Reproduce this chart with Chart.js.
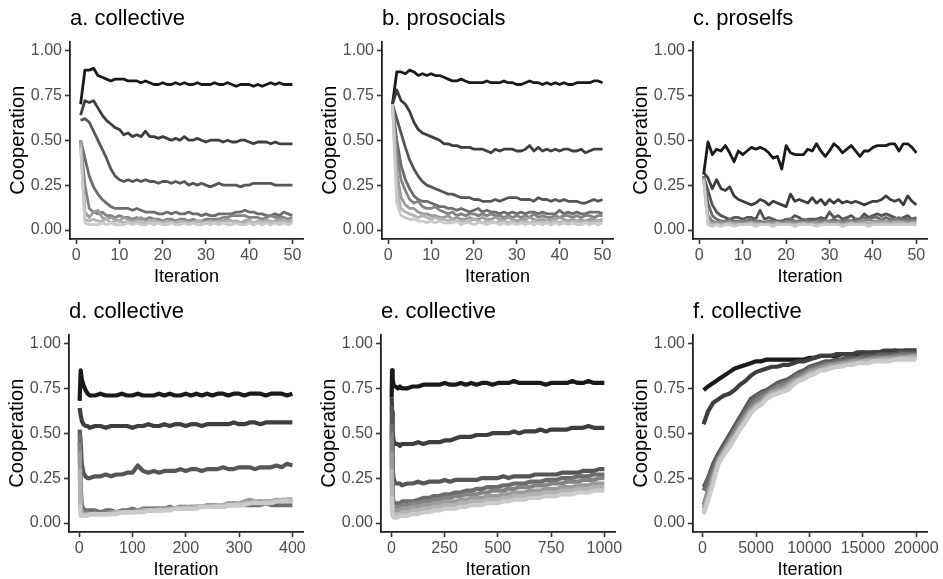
<!DOCTYPE html>
<html><head><meta charset="utf-8">
<script src="https://cdn.jsdelivr.net/npm/chart.js@4/dist/chart.umd.min.js"></script>
<style>
html,body{margin:0;padding:0;background:#fff;}
body{width:943px;height:579px;overflow:hidden;position:relative;}
canvas{position:absolute;}
</style></head><body>
<canvas id="pa"></canvas><canvas id="pb"></canvas><canvas id="pc"></canvas>
<canvas id="pd"></canvas><canvas id="pe"></canvas><canvas id="pf"></canvas>
<script>
// ---------- DATA ----------
const panelTitles = ['a. collective','b. prosocials','c. proselfs','d. collective','e. collective','f. collective'];
const yTicks = [0, 0.25, 0.5, 0.75, 1];
const xTicks50 = [0,10,20,30,40,50];
const xTicks400 = [0,100,200,300,400];
const xTicks1000 = [0,250,500,750,1000];
const xTicks20000 = [0,5000,10000,15000,20000];

const iter50 = [1,2,3,4,5,6,7,8,9,10,11,12,13,14,15,16,17,18,19,20,21,22,23,24,25,26,27,28,29,30,31,32,33,34,35,36,37,38,39,40,41,42,43,44,45,46,47,48,49,50];
const iter400 = [1,3,5,8,12,16,20,30,40,50,60,70,80,90,100,110,120,130,140,150,160,170,180,190,200,210,220,230,240,250,260,270,280,290,300,310,320,330,340,350,360,370,380,390,400];
const iter1000 = [1,3,6,10,15,20,30,40,50,75,100,125,150,175,200,225,250,275,300,325,350,375,400,425,450,475,500,525,550,575,600,625,650,675,700,725,750,775,800,825,850,875,900,925,950,975,1000];
const iter20000 = [100,500,1000,1500,2000,2500,3000,3500,4000,4500,5000,5500,6000,6500,7000,7500,8000,8500,9000,9500,10000,10500,11000,11500,12000,12500,13000,13500,14000,14500,15000,15500,16000,16500,17000,17500,18000,18500,19000,19500,20000];

// a. collective
const a1 = [0.70,0.89,0.89,0.90,0.86,0.85,0.84,0.83,0.84,0.84,0.84,0.83,0.83,0.83,0.82,0.83,0.82,0.81,0.81,0.82,0.81,0.81,0.82,0.81,0.82,0.81,0.81,0.82,0.81,0.81,0.81,0.82,0.81,0.81,0.82,0.81,0.80,0.81,0.81,0.81,0.80,0.81,0.80,0.81,0.82,0.81,0.82,0.81,0.81,0.81];
const a2 = [0.64,0.72,0.71,0.72,0.68,0.64,0.61,0.59,0.57,0.56,0.53,0.54,0.52,0.53,0.52,0.55,0.52,0.52,0.51,0.52,0.51,0.50,0.51,0.50,0.52,0.50,0.50,0.51,0.50,0.49,0.50,0.50,0.50,0.49,0.50,0.49,0.49,0.50,0.50,0.49,0.48,0.49,0.49,0.49,0.48,0.49,0.48,0.48,0.48,0.48];
const a3 = [0.61,0.62,0.60,0.55,0.50,0.45,0.40,0.34,0.30,0.28,0.27,0.28,0.27,0.28,0.27,0.28,0.27,0.27,0.26,0.27,0.27,0.26,0.27,0.26,0.27,0.25,0.26,0.25,0.26,0.25,0.24,0.25,0.26,0.25,0.25,0.25,0.25,0.24,0.25,0.25,0.26,0.26,0.26,0.26,0.26,0.25,0.25,0.25,0.25,0.25];
const a4 = [0.50,0.40,0.30,0.24,0.20,0.17,0.15,0.13,0.12,0.12,0.12,0.12,0.11,0.12,0.11,0.10,0.10,0.10,0.09,0.09,0.10,0.09,0.10,0.09,0.09,0.10,0.09,0.09,0.08,0.09,0.08,0.08,0.09,0.09,0.09,0.09,0.10,0.10,0.11,0.10,0.10,0.09,0.09,0.08,0.08,0.09,0.08,0.10,0.09,0.08];
const a5 = [0.50,0.25,0.12,0.10,0.09,0.10,0.08,0.08,0.07,0.08,0.07,0.07,0.06,0.07,0.06,0.06,0.07,0.06,0.06,0.05,0.06,0.06,0.05,0.06,0.06,0.05,0.06,0.05,0.05,0.06,0.06,0.06,0.06,0.07,0.07,0.08,0.08,0.08,0.08,0.07,0.07,0.07,0.06,0.07,0.08,0.07,0.07,0.07,0.06,0.07];
const a6 = [0.50,0.10,0.07,0.10,0.11,0.07,0.06,0.07,0.06,0.05,0.07,0.06,0.05,0.06,0.07,0.05,0.05,0.06,0.05,0.04,0.05,0.05,0.04,0.05,0.05,0.04,0.05,0.05,0.05,0.04,0.04,0.05,0.05,0.05,0.06,0.05,0.05,0.04,0.05,0.06,0.03,0.05,0.04,0.06,0.04,0.05,0.06,0.05,0.04,0.05];
const a7 = [0.48,0.06,0.05,0.06,0.05,0.05,0.06,0.04,0.05,0.05,0.04,0.05,0.04,0.05,0.04,0.04,0.05,0.05,0.04,0.04,0.05,0.04,0.04,0.05,0.04,0.04,0.04,0.05,0.04,0.04,0.05,0.04,0.05,0.04,0.05,0.05,0.04,0.04,0.04,0.05,0.04,0.05,0.04,0.05,0.05,0.04,0.05,0.04,0.05,0.05];
const a8 = [0.46,0.04,0.03,0.03,0.03,0.04,0.03,0.04,0.03,0.03,0.03,0.04,0.03,0.04,0.03,0.03,0.04,0.03,0.04,0.03,0.03,0.04,0.03,0.03,0.04,0.03,0.04,0.03,0.03,0.04,0.03,0.04,0.03,0.04,0.03,0.03,0.04,0.03,0.03,0.04,0.03,0.04,0.03,0.04,0.03,0.04,0.03,0.04,0.03,0.04];

// b. prosocials
const b1 = [0.70,0.88,0.88,0.87,0.89,0.88,0.86,0.87,0.86,0.87,0.86,0.86,0.85,0.84,0.83,0.83,0.84,0.83,0.82,0.82,0.82,0.82,0.83,0.82,0.82,0.82,0.83,0.82,0.82,0.81,0.81,0.82,0.83,0.82,0.82,0.81,0.82,0.81,0.82,0.81,0.82,0.81,0.81,0.82,0.82,0.82,0.82,0.83,0.83,0.82];
const b2 = [0.70,0.78,0.72,0.70,0.66,0.60,0.56,0.54,0.53,0.52,0.51,0.50,0.48,0.48,0.47,0.47,0.46,0.46,0.46,0.45,0.45,0.45,0.44,0.43,0.45,0.44,0.45,0.45,0.45,0.44,0.44,0.45,0.47,0.44,0.46,0.44,0.45,0.44,0.45,0.44,0.45,0.45,0.44,0.44,0.45,0.43,0.44,0.45,0.45,0.45];
const b3 = [0.70,0.62,0.54,0.46,0.39,0.34,0.30,0.27,0.25,0.24,0.23,0.22,0.21,0.20,0.20,0.19,0.18,0.18,0.18,0.17,0.17,0.16,0.16,0.16,0.17,0.16,0.17,0.18,0.18,0.18,0.17,0.17,0.17,0.16,0.18,0.17,0.17,0.16,0.17,0.16,0.17,0.16,0.16,0.16,0.15,0.15,0.16,0.17,0.16,0.17];
const b4 = [0.70,0.50,0.36,0.28,0.23,0.19,0.17,0.16,0.16,0.15,0.14,0.13,0.13,0.12,0.12,0.11,0.12,0.11,0.10,0.11,0.12,0.10,0.11,0.10,0.10,0.09,0.10,0.09,0.10,0.09,0.10,0.09,0.10,0.10,0.09,0.10,0.09,0.09,0.09,0.11,0.09,0.10,0.09,0.10,0.09,0.09,0.10,0.10,0.10,0.09];
const b5 = [0.70,0.42,0.28,0.22,0.17,0.15,0.16,0.13,0.12,0.12,0.13,0.11,0.10,0.09,0.10,0.08,0.09,0.08,0.09,0.09,0.08,0.09,0.08,0.09,0.08,0.08,0.07,0.08,0.07,0.08,0.07,0.08,0.07,0.09,0.07,0.08,0.07,0.07,0.08,0.07,0.08,0.08,0.07,0.08,0.07,0.08,0.08,0.07,0.08,0.08];
const b6 = [0.70,0.32,0.18,0.14,0.12,0.12,0.10,0.09,0.09,0.08,0.08,0.07,0.07,0.08,0.06,0.07,0.06,0.06,0.07,0.06,0.06,0.07,0.06,0.06,0.07,0.06,0.06,0.07,0.06,0.05,0.06,0.06,0.07,0.06,0.05,0.06,0.05,0.06,0.06,0.07,0.06,0.05,0.06,0.05,0.06,0.05,0.06,0.06,0.05,0.06];
const b7 = [0.70,0.22,0.12,0.10,0.09,0.08,0.07,0.08,0.07,0.06,0.07,0.06,0.06,0.05,0.06,0.05,0.05,0.04,0.05,0.06,0.05,0.04,0.05,0.05,0.04,0.05,0.05,0.04,0.05,0.04,0.04,0.05,0.04,0.05,0.04,0.04,0.05,0.04,0.05,0.04,0.05,0.04,0.04,0.05,0.04,0.05,0.04,0.05,0.05,0.05];
const b8 = [0.70,0.15,0.08,0.07,0.06,0.06,0.05,0.05,0.04,0.05,0.04,0.05,0.04,0.04,0.04,0.05,0.03,0.04,0.04,0.03,0.04,0.04,0.03,0.04,0.04,0.03,0.04,0.03,0.04,0.03,0.04,0.03,0.04,0.03,0.04,0.03,0.04,0.03,0.04,0.03,0.04,0.03,0.04,0.03,0.03,0.04,0.03,0.04,0.03,0.04];

// c. proselfs
const c1 = [0.31,0.49,0.42,0.45,0.44,0.47,0.43,0.38,0.44,0.42,0.44,0.46,0.45,0.46,0.45,0.43,0.40,0.41,0.34,0.47,0.43,0.42,0.42,0.42,0.45,0.44,0.48,0.44,0.41,0.44,0.48,0.46,0.43,0.45,0.47,0.44,0.41,0.44,0.44,0.46,0.47,0.47,0.47,0.48,0.48,0.44,0.48,0.48,0.46,0.43];
const c2 = [0.32,0.29,0.23,0.28,0.23,0.22,0.24,0.19,0.17,0.16,0.15,0.14,0.15,0.17,0.16,0.14,0.16,0.15,0.14,0.13,0.20,0.16,0.17,0.16,0.15,0.18,0.15,0.17,0.14,0.17,0.15,0.17,0.15,0.16,0.15,0.16,0.15,0.14,0.15,0.16,0.16,0.17,0.19,0.17,0.16,0.17,0.14,0.19,0.16,0.14];
const c3 = [0.30,0.22,0.14,0.10,0.08,0.07,0.06,0.07,0.07,0.06,0.07,0.07,0.06,0.11,0.06,0.07,0.06,0.05,0.05,0.06,0.06,0.08,0.07,0.05,0.06,0.06,0.06,0.07,0.06,0.10,0.07,0.08,0.06,0.07,0.08,0.06,0.06,0.09,0.07,0.08,0.09,0.08,0.09,0.08,0.07,0.06,0.07,0.08,0.06,0.07];
const c4 = [0.30,0.15,0.08,0.06,0.05,0.05,0.06,0.05,0.05,0.05,0.05,0.06,0.05,0.05,0.04,0.05,0.05,0.04,0.05,0.05,0.06,0.05,0.05,0.06,0.05,0.05,0.05,0.06,0.05,0.05,0.06,0.05,0.05,0.06,0.05,0.06,0.06,0.07,0.06,0.07,0.07,0.06,0.07,0.06,0.06,0.07,0.06,0.06,0.06,0.06];
const c5 = [0.29,0.08,0.05,0.04,0.05,0.04,0.05,0.04,0.04,0.05,0.04,0.04,0.05,0.04,0.04,0.04,0.05,0.04,0.04,0.05,0.04,0.05,0.04,0.04,0.05,0.04,0.05,0.04,0.05,0.05,0.04,0.05,0.04,0.05,0.05,0.04,0.05,0.05,0.06,0.05,0.05,0.06,0.05,0.05,0.06,0.05,0.05,0.05,0.05,0.05];
const c6 = [0.29,0.05,0.03,0.04,0.03,0.04,0.03,0.04,0.04,0.03,0.04,0.03,0.04,0.04,0.03,0.04,0.03,0.04,0.03,0.04,0.04,0.03,0.04,0.04,0.03,0.04,0.04,0.03,0.04,0.04,0.04,0.04,0.03,0.04,0.04,0.04,0.05,0.04,0.04,0.04,0.05,0.04,0.05,0.04,0.04,0.05,0.04,0.04,0.04,0.04];
const c7 = [0.28,0.04,0.03,0.03,0.03,0.03,0.04,0.03,0.03,0.03,0.03,0.04,0.03,0.03,0.03,0.03,0.03,0.04,0.03,0.03,0.03,0.03,0.03,0.04,0.03,0.03,0.03,0.03,0.04,0.03,0.03,0.03,0.03,0.03,0.04,0.03,0.03,0.04,0.03,0.04,0.03,0.04,0.04,0.03,0.04,0.04,0.04,0.03,0.04,0.04];
const c8 = [0.28,0.03,0.02,0.03,0.02,0.03,0.03,0.02,0.03,0.03,0.03,0.03,0.02,0.03,0.03,0.03,0.02,0.03,0.03,0.03,0.03,0.02,0.03,0.03,0.03,0.03,0.02,0.03,0.03,0.03,0.03,0.03,0.02,0.03,0.03,0.03,0.03,0.03,0.02,0.03,0.03,0.03,0.03,0.03,0.03,0.03,0.03,0.03,0.03,0.03];

// d. collective (400 iterations)
const d1 = [0.68,0.85,0.80,0.77,0.74,0.72,0.71,0.71,0.72,0.71,0.71,0.71,0.72,0.71,0.71,0.72,0.71,0.71,0.71,0.72,0.71,0.72,0.71,0.71,0.72,0.71,0.72,0.71,0.72,0.71,0.72,0.72,0.71,0.72,0.72,0.71,0.72,0.72,0.72,0.71,0.72,0.72,0.72,0.71,0.72];
const d2 = [0.64,0.60,0.57,0.55,0.54,0.54,0.53,0.54,0.54,0.53,0.54,0.54,0.54,0.54,0.53,0.54,0.54,0.55,0.54,0.54,0.55,0.54,0.55,0.55,0.54,0.55,0.55,0.54,0.55,0.55,0.55,0.55,0.55,0.56,0.55,0.55,0.56,0.56,0.55,0.56,0.56,0.56,0.56,0.56,0.56];
const d3 = [0.52,0.45,0.33,0.28,0.26,0.25,0.25,0.26,0.26,0.27,0.26,0.27,0.27,0.28,0.28,0.32,0.29,0.28,0.29,0.28,0.29,0.29,0.29,0.30,0.29,0.30,0.30,0.29,0.30,0.30,0.30,0.31,0.30,0.30,0.31,0.31,0.31,0.30,0.31,0.31,0.31,0.32,0.31,0.33,0.32];
const d4 = [0.50,0.20,0.10,0.08,0.07,0.07,0.07,0.07,0.06,0.07,0.07,0.06,0.07,0.07,0.08,0.07,0.08,0.08,0.08,0.08,0.08,0.09,0.08,0.09,0.08,0.09,0.09,0.09,0.09,0.09,0.10,0.09,0.10,0.10,0.10,0.10,0.10,0.10,0.10,0.11,0.10,0.10,0.10,0.10,0.10];
const d5 = [0.45,0.12,0.07,0.06,0.06,0.06,0.05,0.06,0.05,0.06,0.06,0.06,0.06,0.07,0.07,0.07,0.08,0.07,0.08,0.08,0.08,0.08,0.08,0.09,0.09,0.08,0.09,0.09,0.09,0.10,0.09,0.10,0.10,0.11,0.10,0.11,0.12,0.11,0.11,0.12,0.11,0.12,0.12,0.12,0.12];
const d6 = [0.40,0.08,0.06,0.05,0.05,0.05,0.05,0.05,0.05,0.05,0.06,0.06,0.06,0.06,0.06,0.07,0.07,0.07,0.07,0.08,0.08,0.08,0.08,0.08,0.09,0.09,0.09,0.09,0.10,0.10,0.10,0.10,0.11,0.11,0.11,0.12,0.13,0.12,0.12,0.12,0.12,0.13,0.12,0.13,0.13];
const d7 = [0.30,0.06,0.05,0.05,0.04,0.05,0.05,0.05,0.05,0.05,0.05,0.06,0.06,0.06,0.06,0.06,0.07,0.07,0.07,0.07,0.07,0.08,0.08,0.08,0.08,0.08,0.09,0.09,0.09,0.09,0.10,0.10,0.10,0.10,0.11,0.11,0.11,0.12,0.11,0.12,0.12,0.12,0.13,0.13,0.13];
const d8 = [0.10,0.04,0.04,0.04,0.04,0.04,0.05,0.05,0.05,0.05,0.05,0.05,0.06,0.06,0.06,0.06,0.06,0.07,0.07,0.07,0.07,0.07,0.08,0.08,0.08,0.08,0.08,0.09,0.09,0.09,0.09,0.09,0.10,0.10,0.10,0.10,0.11,0.11,0.11,0.11,0.11,0.12,0.12,0.12,0.12];

// e. collective (1000 iterations)
const e1 = [0.70,0.85,0.80,0.77,0.76,0.76,0.75,0.76,0.75,0.75,0.76,0.76,0.77,0.77,0.77,0.77,0.78,0.77,0.77,0.78,0.77,0.78,0.77,0.78,0.78,0.77,0.78,0.78,0.78,0.79,0.78,0.78,0.78,0.78,0.78,0.77,0.78,0.78,0.78,0.78,0.79,0.78,0.78,0.79,0.78,0.78,0.78];
const e2 = [0.70,0.62,0.50,0.46,0.44,0.44,0.44,0.43,0.44,0.44,0.44,0.45,0.44,0.45,0.45,0.45,0.46,0.46,0.47,0.48,0.48,0.48,0.49,0.49,0.49,0.50,0.50,0.50,0.50,0.51,0.50,0.51,0.51,0.51,0.52,0.51,0.52,0.52,0.52,0.52,0.53,0.53,0.53,0.54,0.53,0.53,0.53];
const e3 = [0.65,0.45,0.30,0.25,0.23,0.22,0.22,0.22,0.21,0.22,0.22,0.23,0.22,0.23,0.23,0.23,0.24,0.23,0.24,0.24,0.24,0.24,0.24,0.25,0.25,0.25,0.25,0.26,0.25,0.26,0.26,0.26,0.26,0.27,0.27,0.27,0.27,0.27,0.28,0.28,0.28,0.28,0.29,0.29,0.29,0.30,0.30];
const e4 = [0.55,0.30,0.15,0.12,0.11,0.11,0.11,0.11,0.12,0.12,0.12,0.13,0.14,0.14,0.15,0.15,0.16,0.16,0.17,0.17,0.18,0.18,0.19,0.19,0.20,0.20,0.20,0.21,0.21,0.22,0.22,0.22,0.23,0.23,0.23,0.24,0.24,0.24,0.25,0.25,0.25,0.26,0.26,0.26,0.27,0.27,0.27];
const e5 = [0.50,0.22,0.12,0.09,0.09,0.09,0.09,0.09,0.10,0.10,0.11,0.11,0.12,0.12,0.13,0.13,0.14,0.14,0.15,0.15,0.16,0.16,0.16,0.17,0.17,0.18,0.18,0.18,0.19,0.19,0.20,0.20,0.20,0.21,0.21,0.21,0.22,0.22,0.22,0.23,0.23,0.23,0.24,0.24,0.24,0.25,0.25];
const e6 = [0.40,0.15,0.09,0.07,0.07,0.07,0.07,0.07,0.08,0.08,0.09,0.09,0.10,0.10,0.11,0.11,0.12,0.12,0.12,0.13,0.13,0.14,0.14,0.14,0.15,0.15,0.15,0.16,0.16,0.17,0.17,0.17,0.18,0.18,0.18,0.19,0.19,0.19,0.20,0.20,0.20,0.21,0.21,0.21,0.22,0.22,0.22];
const e7 = [0.30,0.10,0.06,0.05,0.05,0.05,0.05,0.05,0.06,0.06,0.07,0.07,0.08,0.08,0.09,0.09,0.10,0.10,0.10,0.11,0.11,0.12,0.12,0.12,0.13,0.13,0.13,0.14,0.14,0.15,0.15,0.15,0.16,0.16,0.16,0.17,0.17,0.17,0.18,0.18,0.18,0.19,0.19,0.19,0.20,0.20,0.20];
const e8 = [0.15,0.05,0.04,0.03,0.03,0.03,0.03,0.04,0.04,0.04,0.05,0.05,0.06,0.06,0.07,0.07,0.08,0.08,0.08,0.09,0.09,0.10,0.10,0.10,0.11,0.11,0.11,0.12,0.12,0.13,0.13,0.13,0.14,0.14,0.14,0.15,0.15,0.15,0.16,0.16,0.16,0.17,0.17,0.17,0.18,0.18,0.18];

// f. collective (20000 iterations)
const f1 = [0.74,0.76,0.78,0.80,0.82,0.84,0.86,0.87,0.88,0.89,0.90,0.90,0.91,0.91,0.91,0.91,0.91,0.91,0.91,0.91,0.92,0.92,0.93,0.93,0.93,0.93,0.94,0.94,0.94,0.94,0.95,0.94,0.95,0.95,0.95,0.95,0.96,0.95,0.96,0.96,0.96];
const f2 = [0.55,0.62,0.67,0.69,0.71,0.72,0.74,0.77,0.79,0.82,0.84,0.85,0.86,0.87,0.87,0.88,0.88,0.89,0.90,0.90,0.91,0.92,0.93,0.93,0.93,0.94,0.94,0.94,0.94,0.95,0.95,0.95,0.95,0.95,0.96,0.96,0.96,0.96,0.96,0.96,0.96];
const f3 = [0.20,0.25,0.33,0.39,0.44,0.49,0.54,0.59,0.64,0.69,0.71,0.73,0.74,0.76,0.78,0.79,0.80,0.82,0.84,0.85,0.87,0.88,0.89,0.90,0.90,0.91,0.91,0.92,0.92,0.92,0.93,0.93,0.93,0.94,0.94,0.94,0.94,0.95,0.95,0.95,0.95];
const f4 = [0.18,0.23,0.31,0.37,0.42,0.47,0.52,0.57,0.62,0.67,0.70,0.72,0.73,0.75,0.77,0.78,0.79,0.81,0.83,0.84,0.86,0.87,0.88,0.89,0.89,0.90,0.90,0.91,0.91,0.91,0.92,0.92,0.92,0.93,0.93,0.93,0.93,0.94,0.94,0.94,0.94];
const f5 = [0.10,0.18,0.28,0.36,0.41,0.46,0.51,0.56,0.60,0.65,0.68,0.70,0.72,0.74,0.76,0.77,0.78,0.80,0.82,0.83,0.85,0.86,0.87,0.88,0.88,0.89,0.89,0.90,0.90,0.91,0.91,0.91,0.92,0.92,0.92,0.92,0.93,0.93,0.93,0.93,0.93];
const f6 = [0.08,0.16,0.26,0.35,0.40,0.45,0.49,0.54,0.59,0.63,0.66,0.68,0.71,0.73,0.74,0.75,0.77,0.79,0.80,0.82,0.84,0.85,0.86,0.87,0.88,0.88,0.89,0.89,0.90,0.90,0.90,0.91,0.91,0.91,0.92,0.92,0.92,0.92,0.92,0.93,0.93];
const f7 = [0.06,0.14,0.24,0.34,0.39,0.44,0.48,0.53,0.57,0.62,0.65,0.67,0.70,0.72,0.73,0.74,0.76,0.78,0.80,0.81,0.83,0.84,0.85,0.86,0.87,0.87,0.88,0.88,0.89,0.89,0.90,0.90,0.90,0.91,0.91,0.91,0.91,0.92,0.92,0.92,0.92];
const f8 = [0.05,0.12,0.22,0.33,0.38,0.42,0.47,0.52,0.56,0.61,0.64,0.66,0.69,0.71,0.72,0.73,0.74,0.77,0.79,0.80,0.82,0.83,0.85,0.85,0.86,0.87,0.87,0.88,0.88,0.89,0.89,0.89,0.90,0.90,0.90,0.90,0.91,0.91,0.91,0.91,0.91];

// ---------- STYLE / LAYOUT ----------
const GREYS = ['#1a1a1a','#3e3e3e','#565656','#6c6c6c','#838383','#9b9b9b','#b3b3b3','#cacaca'];
const FONT = '"Liberation Sans", Arial, Helvetica, sans-serif';
const Y_AXIS_W = 70, X_AXIS_H = 54, PAD_R = 16;

const panels = [
  {id:'pa', t:0, iters:iter50, series:[a1,a2,a3,a4,a5,a6,a7,a8], xt:xTicks50, xmin:-1.45, xmax:52.45, left:70, w:233, top:0, h:293, lw:2.8},
  {id:'pb', t:1, iters:iter50, series:[b1,b2,b3,b4,b5,b6,b7,b8], xt:xTicks50, xmin:-1.45, xmax:52.45, left:382, w:231, top:0, h:293, lw:2.8},
  {id:'pc', t:2, iters:iter50, series:[c1,c2,c3,c4,c5,c6,c7,c8], xt:xTicks50, xmin:-1.45, xmax:52.45, left:693, w:234, top:0, h:293, lw:2.8},
  {id:'pd', t:3, iters:iter400, series:[d1,d2,d3,d4,d5,d6,d7,d8], xt:xTicks400, xmin:-18.95, xmax:419.95, left:69, w:234, top:293, h:293, lw:4.2},
  {id:'pe', t:4, iters:iter1000, series:[e1,e2,e3,e4,e5,e6,e7,e8], xt:xTicks1000, xmin:-48.95, xmax:1049.95, left:381, w:234, top:293, h:293, lw:4.2},
  {id:'pf', t:5, iters:iter20000, series:[f1,f2,f3,f4,f5,f6,f7,f8], xt:xTicks20000, xmin:-895, xmax:20995, left:693, w:234, top:293, h:293, lw:4.2}
];

Chart.defaults.font.family = FONT;

panels.forEach(p => {
  const cv = document.getElementById(p.id);
  cv.width = Y_AXIS_W + p.w + PAD_R;
  cv.height = p.h;
  cv.style.left = (p.left - Y_AXIS_W) + 'px';
  cv.style.top = p.top + 'px';
  const n = p.series.length;
  const datasets = p.series.map((ys, i) => ({
    label: 'series ' + (i + 1),
    data: ys.map((y, k) => ({x: p.iters[k], y: y})),
    borderColor: GREYS[i],
    backgroundColor: GREYS[i],
    borderWidth: p.lw,
    pointRadius: 0,
    pointHoverRadius: 0,
    tension: 0,
    fill: false,
    borderJoinStyle: 'round',
    order: n - i
  }));
  new Chart(cv, {
    type: 'line',
    data: {datasets},
    options: {
      responsive: false,
      animation: false,
      devicePixelRatio: 1,
      layout: {padding: {left: 0, right: PAD_R, top: 0, bottom: 0}},
      plugins: {
        legend: {display: false},
        tooltip: {enabled: false},
        title: {
          display: true, text: panelTitles[p.t], align: 'start', fullSize: false,
          color: '#000', font: {size: 22, weight: 'normal', family: FONT},
          padding: {top: 6, bottom: 9}
        }
      },
      scales: {
        x: {
          type: 'linear', min: p.xmin, max: p.xmax,
          afterBuildTicks: s => { s.ticks = p.xt.map(v => ({value: v})); },
          afterFit: s => { s.height = X_AXIS_H; },
          ticks: {autoSkip: false, maxRotation: 0, padding: 2, color: '#4d4d4d', font: {size: 16},
                  callback: v => String(v)},
          grid: {display: true, drawOnChartArea: false, drawTicks: true, tickLength: 5, tickColor: '#333', tickWidth: 1.6},
          border: {display: true, color: '#222', width: 1.8},
          title: {display: true, text: 'Iteration', color: '#000', font: {size: 18}, padding: {top: 0, bottom: 5}}
        },
        y: {
          type: 'linear', min: -0.05, max: 1.05,
          afterBuildTicks: s => { s.ticks = yTicks.map(v => ({value: v})); },
          afterFit: s => { s.width = Y_AXIS_W; },
          ticks: {padding: 3, color: '#4d4d4d', font: {size: 16}, callback: v => Number(v).toFixed(2)},
          grid: {display: true, drawOnChartArea: false, drawTicks: true, tickLength: 5, tickColor: '#333', tickWidth: 1.6},
          border: {display: true, color: '#222', width: 1.8},
          title: {display: true, text: 'Cooperation', color: '#000', font: {size: 20}, padding: {top: 6, bottom: 4}}
        }
      }
    }
  });
});
</script>
</body></html>
